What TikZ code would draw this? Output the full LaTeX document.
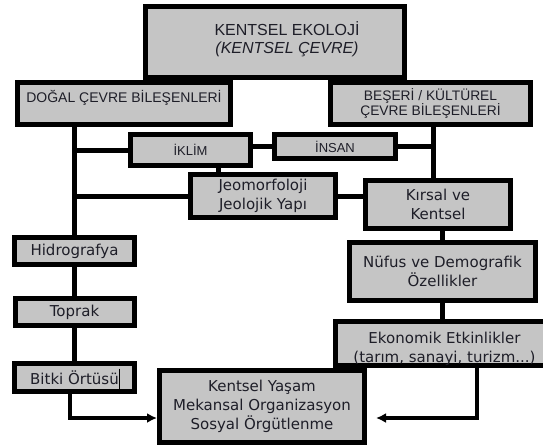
\documentclass[tikz,border=0pt]{standalone}
\usepackage{fontspec}
\setmainfont{Liberation Sans}
\newfontfamily\boxfont{DejaVu Sans}
\usetikzlibrary{arrows.meta,backgrounds}
\definecolor{boxgray}{RGB}{197,197,197}
\definecolor{inkgray}{RGB}{30,30,40}
\tikzset{
  box/.style={draw=black,fill=boxgray,line width=5pt,inner sep=0pt,align=center,text=inkgray},
  capsbox/.style={box,font=\fontsize{13.8}{14.5}\selectfont},
  textbox/.style={box,font=\boxfont\fontsize{15}{19}\selectfont},
  boxlabel/.style={text=inkgray,align=center,inner sep=0pt},
  link/.style={draw=black,line width=5pt},
  flow/.style={draw=black,line width=4pt,-{Latex[length=10pt,width=10pt]}}
}
\begin{document}
\begin{tikzpicture}[x=1pt,y=-1pt]
  \useasboundingbox (0,0) rectangle (543,445);
  \clip (0,0) rectangle (543,445);
  \node[box,minimum width=259pt,minimum height=71pt,
    label={[boxlabel,font=\fontsize{16}{18}\selectfont,xshift=12pt,yshift=3pt]center:KENTSEL EKOLOJİ\\\textit{(KENTSEL ÇEVRE)}}] (ekoloji) at (275,42) {};
  \node[box,minimum width=213pt,minimum height=42pt,
    label={[boxlabel,font=\fontsize{14}{14.5}\selectfont,yshift=6pt]center:DOĞAL ÇEVRE BİLEŞENLERİ}] (dogal) at (124,103.5) {};
  \node[capsbox,minimum width=200pt,minimum height=42pt] (beseri) at (430.5,103.5) {BEŞERİ / KÜLTÜREL\\ÇEVRE BİLEŞENLERİ};
  \node[capsbox,font=\fontsize{13}{14}\selectfont,minimum width=120pt,minimum height=31pt] (iklim) at (190.5,150) {İKLİM};
  \node[capsbox,font=\fontsize{13}{14}\selectfont,minimum width=121pt,minimum height=24pt] (insan) at (335,146.5) {İNSAN};
  \node[textbox,minimum width=145pt,minimum height=43pt] (jeo) at (263,196) {Jeomorfoloji\\Jeolojik Yapı};
  \node[textbox,minimum width=145pt,minimum height=48pt] (kirsal) at (438,204.5) {Kırsal ve\\Kentsel};
  \node[textbox,minimum width=120pt,minimum height=27pt] (hidro) at (74.5,251) {Hidrografya};
  \node[textbox,minimum width=186pt,minimum height=58pt] (nufus) at (442.5,271.5) {Nüfus ve Demografik\\Özellikler};
  \node[textbox,minimum width=119pt,minimum height=27pt] (toprak) at (74.5,312) {Toprak};
  \node[box,minimum width=218pt,minimum height=44pt,
    label={[boxlabel,font=\boxfont\fontsize{15}{19}\selectfont,yshift=-5pt]center:Ekonomik Etkinlikler\\(tarım, sanayi, turizm...)}] (ekonomik) at (444.5,343.5) {};
  \node[textbox,minimum width=120pt,minimum height=28pt] (bitki) at (74.5,377.5) {Bitki Örtüsü};
  \node[textbox,minimum width=205pt,minimum height=72pt] (kentsel) at (262,406.5) {Kentsel Yaşam\\Mekansal Organizasyon\\Sosyal Örgütlenme};
  \coordinate (rtrunk) at (433,0);
  \coordinate (ijx) at (218,0);
  \coordinate (ekx) at (477,0);
  \coordinate (arrowrow) at (0,418);
  \begin{pgfonlayer}{background}
    \draw[link] (hidro.north |- dogal.south) -- (bitki.north);
    \draw[link] (hidro.north |- iklim.west) -- (iklim.west);
    \draw[link] (hidro.north |- jeo.west) -- (jeo.west);
    \draw[link] (insan.west -| iklim.east) -- (insan.west);
    \draw[link] (insan.east) -- (insan.east -| rtrunk);
    \draw[link] (rtrunk |- beseri.south) -- (rtrunk |- kirsal.north);
    \draw[link] (ijx |- iklim.south) -- (ijx |- jeo.north);
    \draw[link] (jeo.east) -- (jeo.east -| kirsal.west);
    \draw[link] (nufus.north |- kirsal.south) -- (nufus.south |- ekonomik.north);
  \end{pgfonlayer}
  \draw[flow] ([xshift=-4.5pt]bitki.south) |- (kentsel.west |- arrowrow);
  \draw[flow] (ekx |- ekonomik.south) |- ([xshift=9pt]kentsel.east |- arrowrow);
  \draw[line width=0.8pt] ([xshift=44.5pt,yshift=9pt]bitki.center) -- ([xshift=44.5pt,yshift=-15pt]bitki.center);
\end{tikzpicture}
\end{document}
